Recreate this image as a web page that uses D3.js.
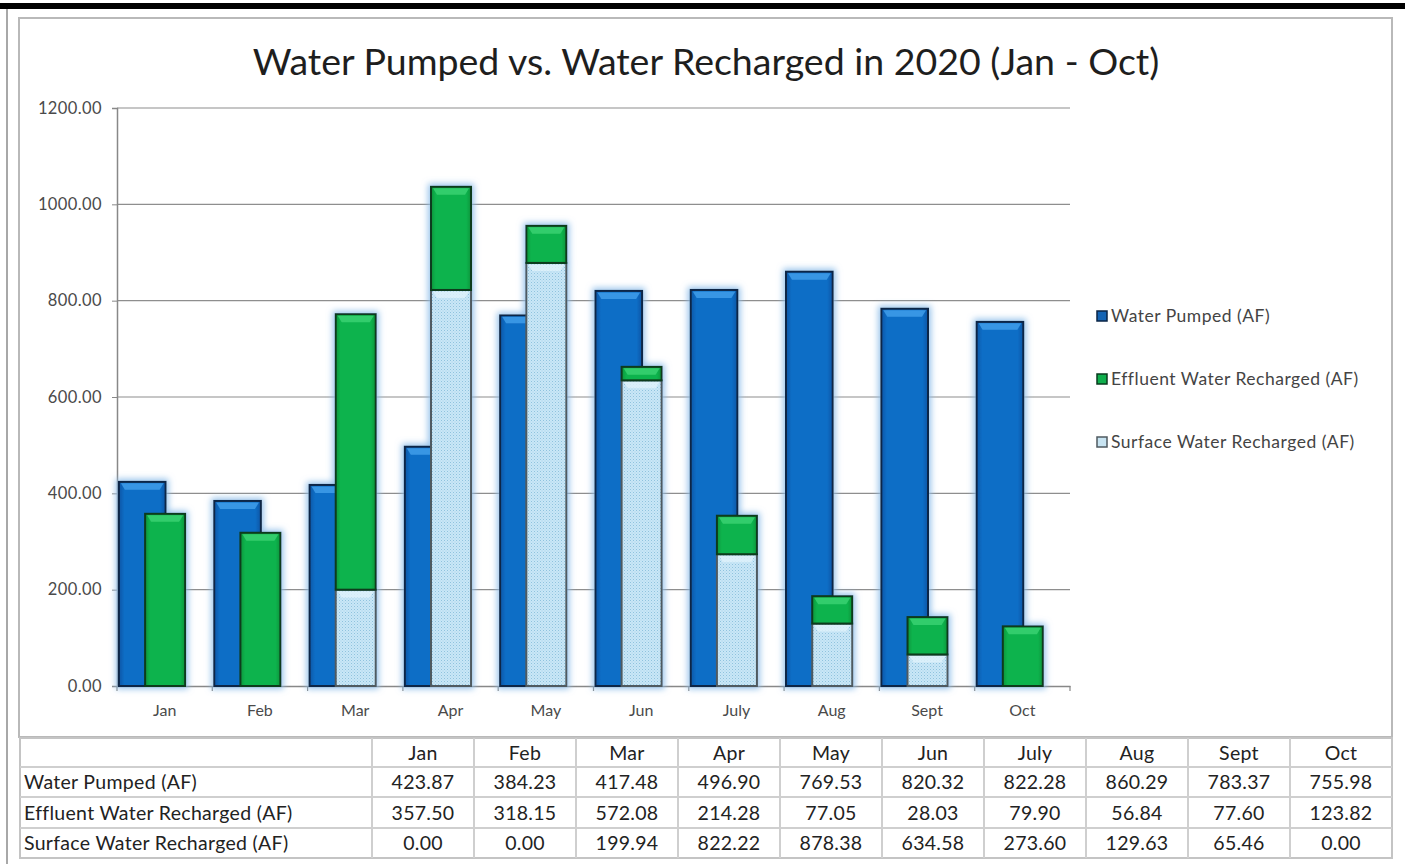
<!DOCTYPE html>
<html>
<head>
    <meta charset="utf-8">
    <script src="https://d3js.org/d3.v7.min.js"></script>
    <style>
        * { margin: 0; padding: 0; }
        body { width: 1405px; height: 864px; background: #fff; overflow: hidden; }
        svg { display: block; }
        .tick text { font-family: Lato, sans-serif; }
    </style>
</head>
<body>
<div id="chart"></div>
<script>
    let months = ["Jan", "Feb", "Mar", "Apr", "May", "Jun", "July", "Aug", "Sept", "Oct"];
    let pumped = [423.87, 384.23, 417.48, 496.90, 769.53, 820.32, 822.28, 860.29, 783.37, 755.98];
    let effluent = [357.50, 318.15, 572.08, 214.28, 77.05, 28.03, 79.90, 56.84, 77.60, 123.82];
    let surface = [0.00, 0.00, 199.94, 822.22, 878.38, 634.58, 273.60, 129.63, 65.46, 0.00];
    let yTicks = [0, 200, 400, 600, 800, 1000, 1200];
    let seriesNames = ["Water Pumped (AF)", "Effluent Water Recharged (AF)", "Surface Water Recharged (AF)"];

    let W = 1405, H = 864;
    let plot = { left: 117, right: 1070, top: 108, bottom: 686 };

    let svg = d3.select("#chart").append("svg")
        .attr("width", W)
        .attr("height", H);

    let defs = svg.append("defs");

    // gradients for the bevel look
    function hGrad(id, edge, mid) {
        let g = defs.append("linearGradient").attr("id", id)
            .attr("x1", "0").attr("x2", "1").attr("y1", "0").attr("y2", "0");
        g.append("stop").attr("offset", "0%").attr("stop-color", edge);
        g.append("stop").attr("offset", "12%").attr("stop-color", mid);
        g.append("stop").attr("offset", "88%").attr("stop-color", mid);
        g.append("stop").attr("offset", "100%").attr("stop-color", edge);
    }
    hGrad("gBlue", "#0a56a6", "#116ec6");
    hGrad("gGreen", "#07953b", "#0fb34d");

    let pat = defs.append("pattern").attr("id", "dots")
        .attr("width", 3).attr("height", 3)
        .attr("patternUnits", "userSpaceOnUse");
    pat.append("rect").attr("width", 3).attr("height", 3).attr("fill", "#c9e7f6");
    pat.append("rect").attr("width", 1).attr("height", 1).attr("fill", "#8fc2de");
    pat.append("rect").attr("x", 1.5).attr("y", 1.5).attr("width", 1).attr("height", 1).attr("fill", "#a6d2ea");

    let glow = defs.append("filter").attr("id", "glow")
        .attr("x", "-30%").attr("y", "-10%").attr("width", "160%").attr("height", "120%");
    glow.append("feMorphology").attr("in", "SourceAlpha").attr("operator", "dilate").attr("radius", 2).attr("result", "d");
    glow.append("feGaussianBlur").attr("in", "d").attr("stdDeviation", 3).attr("result", "b");
    glow.append("feFlood").attr("flood-color", "#8dbde9").attr("flood-opacity", 0.9);
    glow.append("feComposite").attr("in2", "b").attr("operator", "in").attr("result", "g");
    let mg = glow.append("feMerge");
    mg.append("feMergeNode").attr("in", "g");
    mg.append("feMergeNode").attr("in", "SourceGraphic");

    // frame
    svg.append("rect").attr("x", 0).attr("y", 3).attr("width", W).attr("height", 6).attr("fill", "#000");
    svg.append("line").attr("x1", 7).attr("x2", 7).attr("y1", 9).attr("y2", H)
        .attr("stroke", "#a8a8a8").attr("stroke-width", 2);
    svg.append("rect").attr("x", 19).attr("y", 18).attr("width", 1373).attr("height", 719)
        .attr("fill", "#fff").attr("stroke", "#b9b9b9").attr("stroke-width", 2);

    // title
    svg.append("text")
        .attr("x", 706).attr("y", 75)
        .attr("text-anchor", "middle")
        .style("font-family", "Lato, sans-serif")
        .style("font-size", "37.5px")
        .style("fill", "#1e1e1e")
        .text("Water Pumped vs. Water Recharged in 2020 (Jan - Oct)");

    let x = d3.scaleBand().domain(months).range([plot.left, plot.right]).padding(0);
    let y = d3.scaleLinear().domain([0, 1200]).range([plot.bottom, plot.top]);
    let bw = x.bandwidth();

    // gridlines
    svg.append("g")
        .selectAll("line")
        .data(yTicks.filter(d => d > 0))
        .join("line")
        .attr("x1", plot.left).attr("x2", plot.right)
        .attr("y1", d => y(d)).attr("y2", d => y(d))
        .attr("stroke", "#8e8e8e").attr("stroke-width", 1.2);

    // y axis
    let gy = svg.append("g")
        .attr("transform", "translate(" + plot.left + ",0)")
        .call(d3.axisLeft(y).tickValues(yTicks).tickFormat(d3.format(".2f")).tickSize(5).tickPadding(10));
    gy.select(".domain").attr("stroke", "#888").attr("stroke-width", 1.5);
    gy.selectAll(".tick line").attr("stroke", "#888");
    gy.selectAll(".tick text")
        .style("font-size", "16.5px").style("fill", "#4a4a4a").attr("letter-spacing", "0.4px");

    // x axis
    let gx = svg.append("g")
        .attr("transform", "translate(0," + plot.bottom + ")")
        .call(d3.axisBottom(x).tickSize(0).tickPadding(19));
    gx.select(".domain").attr("stroke", "#888").attr("stroke-width", 1.5);
    gx.selectAll(".tick text").style("font-size", "16px").style("fill", "#4a4a4a");
    svg.append("g")
        .selectAll("line")
        .data(months.concat(["end"]))
        .join("line")
        .attr("x1", (d, i) => plot.left + i * bw).attr("x2", (d, i) => plot.left + i * bw)
        .attr("y1", plot.bottom).attr("y2", plot.bottom + 5)
        .attr("stroke", "#888").attr("stroke-width", 1.2);

    let rows = months.map((m, i) => ({ m: m, p: pumped[i], e: effluent[i], s: surface[i] }));

    let bars = svg.append("g").attr("filter", "url(#glow)");

    function bevelBar(g, x0, w, v0, v1, fill, hi, stroke) {
        let top = y(v1), h = y(v0) - y(v1);
        if (h <= 0) return;
        g.append("rect").attr("x", x0).attr("y", top).attr("width", w).attr("height", h)
            .attr("fill", fill).attr("stroke", stroke).attr("stroke-width", 2);
        if (hi) {
            g.append("path")
                .attr("d", `M${x0 + 2},${top + 1.5} L${x0 + w - 2},${top + 1.5} L${x0 + w - 6},${top + 8} L${x0 + 6},${top + 8} Z`)
                .attr("fill", hi).attr("opacity", 0.85);
        }
    }

    rows.forEach(d => {
        let g = bars.append("g");
        let bx = x(d.m) + 0.02 * bw;
        bevelBar(g, bx, 0.49 * bw, 0, d.p, "url(#gBlue)", "#3f9ee9", "#0a2546");
        let gx0 = x(d.m) + 0.295 * bw;
        bevelBar(g, gx0, 0.42 * bw, 0, d.s, "url(#dots)", "#def1fa", "#4f5a60");
        bevelBar(g, gx0, 0.42 * bw, d.s, d.s + d.e, "url(#gGreen)", "#38d172", "#083a1c");
    });

    // legend
    let colors = ["#1464b4", "#0fae4c", "#c8e4f2"];
    let borders = ["#0a2546", "#083a1c", "#4f5a60"];
    let lg = svg.append("g").selectAll("g")
        .data(seriesNames)
        .join("g")
        .attr("transform", (d, i) => "translate(1097," + (316 + i * 63) + ")");
    lg.append("rect").attr("x", 0).attr("y", -5).attr("width", 10).attr("height", 10)
        .attr("fill", (d, i) => colors[i]).attr("stroke", (d, i) => borders[i]).attr("stroke-width", 1.5);
    lg.append("text").attr("x", 14).attr("y", 6)
        .style("font-family", "Lato, sans-serif").style("font-size", "17.5px")
        .attr("letter-spacing", "0.5px")
        .style("fill", "#444").text(d => d);

    // table under the chart, month columns of equal width
    let tableLeft = 20, labelRight = 372, tableRight = 1392;
    let colX = d3.scaleBand().domain(months).range([labelRight, tableRight]);
    let colEdges = [tableLeft].concat(months.map(m => colX(m)), [tableRight]);
    let rowEdges = [738, 767, 797, 828, 858];
    let tableRows = [
        [""].concat(months),
        [seriesNames[0]].concat(pumped.map(d3.format(".2f"))),
        [seriesNames[1]].concat(effluent.map(d3.format(".2f"))),
        [seriesNames[2]].concat(surface.map(d3.format(".2f")))
    ];
    let tg = svg.append("g");
    tg.append("rect").attr("x", tableLeft).attr("y", rowEdges[0])
        .attr("width", tableRight - tableLeft)
        .attr("height", rowEdges[rowEdges.length - 1] - rowEdges[0])
        .attr("fill", "#fff").attr("stroke", "#c4c4c4").attr("stroke-width", 2);
    tg.selectAll("line.h").data(rowEdges.slice(1, -1)).join("line")
        .attr("x1", tableLeft).attr("x2", tableRight)
        .attr("y1", d => d).attr("y2", d => d)
        .attr("stroke", "#cfcfcf").attr("stroke-width", 2);
    tg.selectAll("line.v").data(colEdges.slice(1, -1)).join("line")
        .attr("x1", d => d).attr("x2", d => d)
        .attr("y1", rowEdges[0]).attr("y2", rowEdges[rowEdges.length - 1])
        .attr("stroke", "#cfcfcf").attr("stroke-width", 2);

    tableRows.forEach((r, ri) => {
        let cy = (rowEdges[ri] + rowEdges[ri + 1]) / 2 + 7;
        r.forEach((t, ci) => {
            tg.append("text")
                .attr("x", ci == 0 ? tableLeft + 4 : (colEdges[ci] + colEdges[ci + 1]) / 2)
                .attr("y", cy)
                .attr("text-anchor", ci == 0 ? "start" : "middle")
                .style("font-family", "Lato, sans-serif")
                .style("font-size", "19.5px")
                .attr("letter-spacing", "0.3px")
                .style("fill", "#222")
                .text(t);
        });
    });
</script>
</body>
</html>
